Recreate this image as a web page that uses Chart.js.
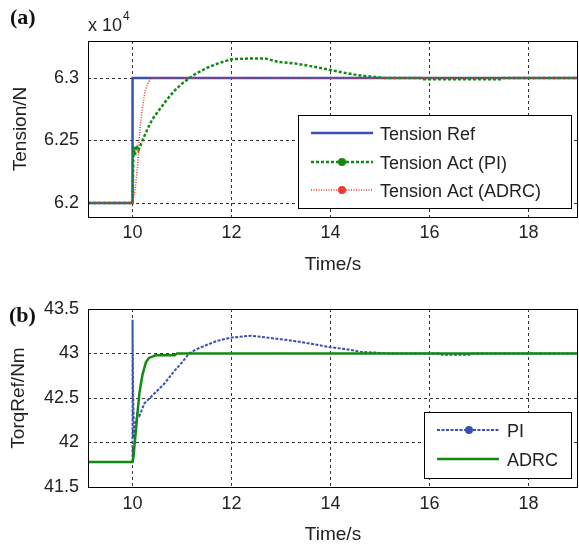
<!DOCTYPE html>
<html>
<head>
<meta charset="utf-8">
<script src="https://cdn.jsdelivr.net/npm/chart.js@4/dist/chart.umd.min.js"></script>
<style>
  body { margin: 0; background: #fff; }
  #wrap { position: relative; width: 579px; height: 548px; }
  canvas { position: absolute; left: 0; }
</style>
</head>
<body>
<div id="wrap">
  <canvas id="c1" width="579" height="280" style="top:0"></canvas>
  <canvas id="c2" width="579" height="268" style="top:280px"></canvas>
</div>
<script>
// (a) tension, N
var refTime = [9.1, 10, 10, 19]
var refTension = [62000, 62000, 63000, 63000]
var piTime = [9.1, 10.0, 10.02, 10.05, 10.08, 10.12, 10.2, 10.3, 10.4, 10.54, 10.7, 10.85, 11.0, 11.15, 11.3, 11.5, 11.75, 12.0, 12.4, 12.7, 12.95, 13.3, 13.6, 13.8, 14.0, 14.3, 14.6, 14.9, 15.1, 15.8, 15.85, 17.45, 17.5, 19]
var piTension = [62000, 62000, 62450, 62380, 62460, 62420, 62500, 62590, 62670, 62745, 62830, 62900, 62955, 63000, 63040, 63080, 63120, 63150, 63157, 63155, 63128, 63115, 63095, 63080, 63064, 63040, 63020, 63008, 63000, 63000, 62990, 62990, 63000, 63000]
var adrcTime = [9.1, 10.0, 10.05, 10.1, 10.15, 10.2, 10.25, 10.3, 10.37, 19]
var adrcTension = [62000, 62000, 62100, 62290, 62600, 62760, 62890, 62950, 63000, 63000]
var tensionTicks = [62000, 62500, 63000]

// (b) torque reference, Nm
var piTqTime = [9.1, 10.0, 10.0, 10.01, 10.03, 10.06, 10.1, 10.14, 10.24, 10.44, 10.64, 10.84, 11.0, 11.14, 11.3, 11.47, 11.7, 12.0, 12.4, 12.7, 13.0, 13.4, 13.8, 14.0, 14.3, 14.6, 14.9, 15.2, 16.2, 16.25, 16.8, 16.85, 19]
var piTorque = [41.78, 41.78, 43.38, 42.6, 42.05, 42.2, 42.33, 42.3, 42.44, 42.55, 42.66, 42.8, 42.9, 43.0, 43.05, 43.09, 43.14, 43.18, 43.2, 43.18, 43.16, 43.13, 43.09, 43.07, 43.05, 43.02, 43.01, 43.0, 43.0, 42.985, 42.985, 43.0, 43.0]
var adrcTqTime = [9.1, 10.0, 10.02, 10.04, 10.07, 10.1, 10.14, 10.2, 10.27, 10.33, 10.47, 10.85, 10.9, 19]
var adrcTorque = [41.78, 41.78, 41.84, 41.97, 42.15, 42.33, 42.56, 42.76, 42.9, 42.95, 42.98, 42.98, 43.0, 43.0]
var torqueTicks = [41.5, 42, 42.5, 43, 43.5]

var xTicks = [10, 12, 14, 16, 18]

var BLUE = '#3b4fb3', GREEN = '#128a12', RED = '#ee3a30'
var FONT = 'Liberation Sans, Arial, sans-serif'

function pts(xs, ys) {
	return xs.map(function (x, i) { return { x: x, y: ys[i] } })
}
function fixTicks(list) {
	return function (s) { s.ticks = list.map(function (v) { return { value: v } }) }
}

// frame, legend box, extra labels
var decor = {
	id: 'decor',
	afterDraw: function (chart, args, o) {
		var ctx = chart.ctx, a = chart.chartArea
		ctx.save()
		ctx.strokeStyle = '#000'
		ctx.lineWidth = 1
		ctx.setLineDash([])
		ctx.strokeRect(Math.round(a.left) + 0.5, Math.round(a.top) + 0.5, Math.round(a.right - a.left) - 1, Math.round(a.bottom - a.top))
		// legend
		var b = o.box
		ctx.fillStyle = '#fff'
		ctx.fillRect(b[0], b[1], b[2], b[3])
		ctx.strokeRect(b[0] + 0.5, b[1] + 0.5, b[2], b[3])
		ctx.font = '18px ' + FONT
		ctx.textBaseline = 'middle'
		o.items.forEach(function (it) {
			ctx.beginPath()
			ctx.strokeStyle = it.color
			ctx.lineWidth = it.width
			ctx.setLineDash(it.dash)
			ctx.moveTo(it.x1, it.y); ctx.lineTo(it.x2, it.y)
			ctx.stroke()
			ctx.setLineDash([])
			if (it.dot) {
				ctx.beginPath()
				ctx.fillStyle = it.color
				ctx.arc(it.dot, it.y, 4, 0, Math.PI * 2)
				ctx.fill()
			}
			ctx.fillStyle = '#222'
			ctx.fillText(it.label, it.tx, it.y + 2)
		})
		// panel tag
		ctx.fillStyle = '#111'
		ctx.font = 'bold 22px Liberation Serif, serif'
		ctx.fillText(o.tag[0], o.tag[1], o.tag[2])
		if (o.exp) {
			ctx.fillStyle = '#222'
			ctx.font = '18px ' + FONT
			ctx.fillText('x 10', 88, 26)
			var w = ctx.measureText('x 10').width
			ctx.font = '12px ' + FONT
			ctx.fillText('4', 88 + w + 1, 17)
		}
		ctx.restore()
	}
}

function makeOptions(cfg) {
	return {
		responsive: false,
		animation: false,
		layout: { padding: { top: cfg.top, right: 1, bottom: 0, left: 0 } },
		elements: { point: { radius: 0 } },
		plugins: {
			legend: { display: false },
			tooltip: { enabled: false },
			decor: cfg.decor
		},
		scales: {
			x: {
				type: 'linear', min: 9.1, max: 19,
				afterFit: function (s) { s.height = cfg.xh },
				afterBuildTicks: fixTicks(xTicks),
				ticks: { font: { size: 18, family: FONT }, color: '#222', padding: cfg.xpad, maxRotation: 0 },
				grid: { color: '#000', lineWidth: 0.8, drawTicks: false },
				border: { display: false, dash: [3, 3] },
				title: { display: true, text: 'Time/s', font: { size: 19, family: FONT }, color: '#222', padding: { top: 0, bottom: cfg.xtp } }
			},
			y: {
				min: cfg.ymin, max: cfg.ymax,
				afterFit: function (s) { s.width = 88 },
				afterBuildTicks: fixTicks(cfg.yticks),
				ticks: { font: { size: 18, family: FONT }, color: '#222', padding: 9, callback: cfg.fmt },
				grid: { color: '#000', lineWidth: 0.8, drawTicks: false },
				border: { display: false, dash: [3, 3] },
				title: { display: true, text: cfg.ytitle, font: { size: 19, family: FONT }, color: '#222', padding: { top: cfg.ytp, bottom: 0 } }
			}
		}
	}
}

new Chart(document.getElementById('c1'), {
	type: 'line',
	data: {
		datasets: [
			{ label: 'Tension Ref', data: pts(refTime, refTension), borderColor: BLUE, borderWidth: 2.5, order: 3 },
			{ label: 'Tension Act (PI)', data: pts(piTime, piTension), borderColor: GREEN, borderWidth: 2.5, borderDash: [3, 2], order: 2 },
			{ label: 'Tension Act (ADRC)', data: pts(adrcTime, adrcTension), borderColor: RED, borderWidth: 1.5, borderDash: [1, 1.5], order: 1 }
		]
	},
	options: makeOptions({
		top: 41, xh: 63, xpad: 5, xtp: 4, ymin: 61888, ymax: 63296, yticks: tensionTicks, ytp: 9,
		ytitle: 'Tension/N',
		fmt: function (v) { return String(+(v / 1e4).toFixed(2)) },
		decor: {
			box: [298, 115, 273, 93],
			tag: ['(a)', 10, 18],
			exp: true,
			items: [
				{ label: 'Tension Ref', color: BLUE, width: 2.5, dash: [], x1: 311, x2: 373, y: 133, tx: 380 },
				{ label: 'Tension Act (PI)', color: GREEN, width: 2.5, dash: [3, 2], x1: 311, x2: 373, y: 162, dot: 342, tx: 380 },
				{ label: 'Tension Act (ADRC)', color: RED, width: 1.5, dash: [1, 1.5], x1: 311, x2: 373, y: 190, dot: 342, tx: 380 }
			]
		}
	}),
	plugins: [decor]
})

new Chart(document.getElementById('c2'), {
	type: 'line',
	data: {
		datasets: [
			{ label: 'PI', data: pts(piTqTime, piTorque), borderColor: BLUE, borderWidth: 2, borderDash: [3, 1.5], order: 2 },
			{ label: 'ADRC', data: pts(adrcTqTime, adrcTorque), borderColor: GREEN, borderWidth: 2.5, order: 1 }
		]
	},
	options: makeOptions({
		top: 29, xh: 61, xpad: 6, xtp: 2, ymin: 41.5, ymax: 43.5, yticks: torqueTicks, ytp: 7,
		ytitle: 'TorqRef/Nm',
		fmt: function (v) { return String(+v.toFixed(1)) },
		decor: {
			box: [424, 132, 147, 66],
			tag: ['(b)', 9, 36],
			exp: false,
			items: [
				{ label: 'PI', color: BLUE, width: 2, dash: [3, 1.5], x1: 437, x2: 499, y: 150, dot: 469, tx: 507 },
				{ label: 'ADRC', color: GREEN, width: 2.5, dash: [], x1: 437, x2: 499, y: 179, tx: 507 }
			]
		}
	}),
	plugins: [decor]
})
</script>
</body>
</html>
